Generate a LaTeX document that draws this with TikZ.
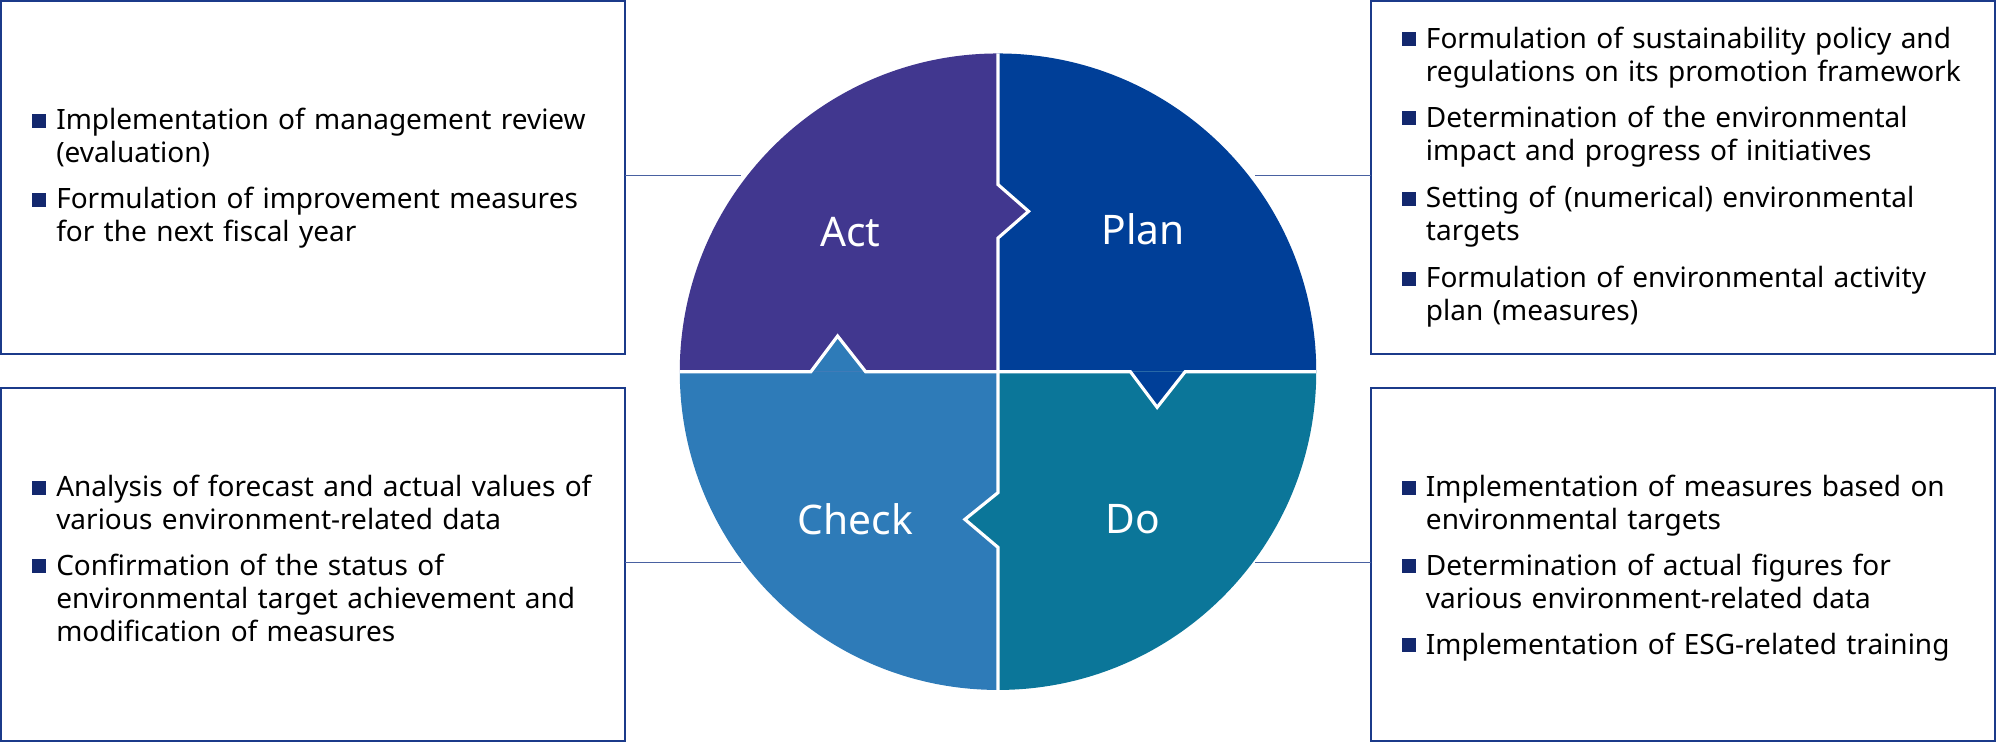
\documentclass[tikz,border=0pt]{standalone}
\usepackage{fontspec}
\setmainfont{Noto Sans}
\definecolor{cact}{HTML}{41378F}
\definecolor{cplan}{HTML}{003F98}
\definecolor{ccheck}{HTML}{2E7BB8}
\definecolor{cdo}{HTML}{0B7699}
\definecolor{cbord}{HTML}{1B3A8A}
\definecolor{cbul}{HTML}{13286E}
\tikzset{
 box/.style={draw=cbord,line width=1.3pt},
 conn/.style={draw=cbord!80,line width=1pt},
 item/.style={anchor=north west,inner sep=0pt,align=left,text width=445pt,font=\fontsize{22}{26}\selectfont},
 bul/.style={fill=cbul,minimum size=11pt,inner sep=0pt},
 lab/.style={text=white,font=\fontsize{32}{38}\selectfont},
 sep/.style={draw=white,line width=2.5pt,line join=miter}
}
\newcommand{\itm}[4]{\node[bul] (b#1) at ([xshift=-13pt]#2,#3) {};\node[item] (t#1) at (#2,#3-11.5) {\strut#4};}
\begin{document}
\begin{tikzpicture}[x=1pt,y=-1pt]
\useasboundingbox (0,0) rectangle (1568,585);
% quadrants
\fill[cact] (784,292) -- (534,292) arc[start angle=180,end angle=270,radius=250] -- cycle;
\fill[cplan] (784,292) -- (784,42) arc[start angle=270,end angle=360,radius=250] -- cycle;
\fill[ccheck] (784,292) -- (534,292) arc[start angle=180,end angle=90,radius=250] -- cycle;
\fill[cdo] (784,292) -- (1034,292) arc[start angle=0,end angle=90,radius=250] -- cycle;
\fill[cact] (784,145) -- (808,166) -- (784,187) -- cycle;
\fill[ccheck] (637,292) -- (658,264) -- (680,292) -- cycle;
\fill[cplan] (888,292) -- (909,320) -- (931,292) -- cycle;
\fill[cdo] (784,387) -- (758,408) -- (784,430) -- cycle;
\draw[sep] (784,42) -- (784,145) -- (808,166) -- (784,187) -- (784,387) -- (758,408) -- (784,430) -- (784,542);
\draw[sep] (534,292) -- (637,292) -- (658,264) -- (680,292) -- (888,292) -- (909,320) -- (931,292) -- (1034,292);
\node[lab] (act) at (668,182) {Act};
\node[lab] (plan) at (898,180) {Plan};
\node[lab] (check) at (672,408) {Check};
\node[lab] (do) at (890,408) {Do};
% boxes
\draw[box] (1,1) rectangle (491,278);
\draw[box] (1,305) rectangle (491,582);
\draw[box] (1077,1) rectangle (1567,278);
\draw[box] (1077,305) rectangle (1567,582);
\coordinate (l1a) at (491,138); \coordinate (l1b) at (582,138);
\coordinate (r1a) at (986,138); \coordinate (r1b) at (1077,138);
\coordinate (l2a) at (491,442); \coordinate (l2b) at (582,442);
\coordinate (r2a) at (986,442); \coordinate (r2b) at (1077,442);
\draw[conn] (l1a) -- (l1b); \draw[conn] (r1a) -- (r1b);
\draw[conn] (l2a) -- (l2b); \draw[conn] (r2a) -- (r2b);
% texts
\itm{a1}{44}{95}{Implementation of management review\\(evaluation)}
\itm{a2}{44}{157}{Formulation of improvement measures\\for the next fiscal year}
\itm{c1}{44}{383}{Analysis of forecast and actual values of\\various environment-related data}
\itm{c2}{44}{445}{Confirmation of the status of\\environmental target achievement and\\modification of measures}
\itm{p1}{1120}{31}{Formulation of sustainability policy and\\regulations on its promotion framework}
\itm{p2}{1120}{93}{Determination of the environmental\\impact and progress of initiatives}
\itm{p3}{1120}{156}{Setting of (numerical) environmental\\targets}
\itm{p4}{1120}{219}{Formulation of environmental activity\\plan (measures)}
\itm{d1}{1120}{383}{Implementation of measures based on\\environmental targets}
\itm{d2}{1120}{445}{Determination of actual figures for\\various environment-related data}
\itm{d3}{1120}{507}{Implementation of ESG-related training}
\end{tikzpicture}
\end{document}
